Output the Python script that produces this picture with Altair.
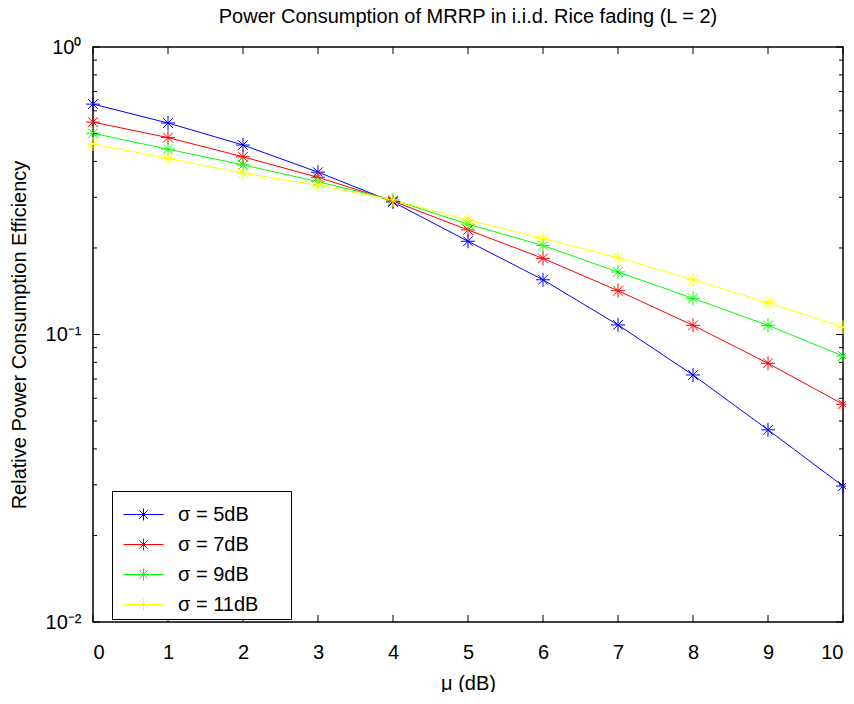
import altair as alt
import pandas as pd

# ---- data ----
mu = [0, 1, 2, 3, 4, 5, 6, 7, 8, 9, 10]
series_labels = ["σ = 5dB", "σ = 7dB", "σ = 9dB", "σ = 11dB"]
series_colors = ["#0000ff", "#ff0000", "#00ff00", "#ffff00"]
s5 = [0.633, 0.544, 0.456, 0.367, 0.289, 0.211, 0.155, 0.108, 0.0723, 0.0466, 0.0297]
s7 = [0.548, 0.484, 0.415, 0.352, 0.291, 0.231, 0.184, 0.142, 0.1076, 0.0794, 0.0572]
s9 = [0.501, 0.441, 0.389, 0.340, 0.294, 0.242, 0.204, 0.165, 0.1336, 0.1076, 0.0842]
s11 = [0.460, 0.410, 0.364, 0.331, 0.294, 0.250, 0.216, 0.185, 0.155, 0.129, 0.106]

y_major = [0.01, 0.1, 1]
y_minor = [0.02, 0.03, 0.04, 0.05, 0.06, 0.07, 0.08, 0.09,
           0.2, 0.3, 0.4, 0.5, 0.6, 0.7, 0.8, 0.9]
x_ticks = mu

rows = []
for lab, vals in zip(series_labels, [s5, s7, s9, s11]):
    for m, v in zip(mu, vals):
        rows.append({"mu": m, "val": v, "series": lab})
df = pd.DataFrame(rows)

W, H = 750, 575
FONT = "Liberation Sans"
STAR = "M-1,0L1,0M0,-1L0,1M-0.7,-0.7L0.7,0.7M-0.7,0.7L0.7,-0.7"
# legend glyph: a 40px line with a star in the middle (unit = 19px)
LEG_SYM = ("M-0.632,0L1.474,0"
           "M0.421,-0.316L0.421,0.316M0.105,0L0.737,0"
           "M0.198,-0.223L0.644,0.223M0.198,0.223L0.644,-0.223")

xscale = alt.Scale(domain=[0, 10], nice=False, zero=False)
yscale = alt.Scale(type="log", domain=[0.01, 1], nice=False)
cscale = alt.Scale(domain=series_labels, range=series_colors)

x_axis = alt.Axis(title="μ (dB)", values=x_ticks, format="d",
                  ticks=False, domain=False, grid=False,
                  labelFontSize=20, labelFont=FONT, labelColor="black",
                  labelPadding=20, titleFontSize=20, titleFont=FONT,
                  titleFontWeight="normal", titleColor="black",
                  titlePadding=11)
y_axis = alt.Axis(title="Relative Power Consumption Efficiency",
                  values=y_major,
                  labelExpr="datum.value >= 0.5 ? '10⁰' : (datum.value >= 0.05 ? '10⁻¹' : '10⁻²')",
                  ticks=False, domain=False, grid=False,
                  labelFontSize=20, labelFont=FONT, labelColor="black",
                  labelPadding=12, titleFontSize=20, titleFont=FONT,
                  titleFontWeight="normal", titleColor="black",
                  titlePadding=16)

PADSTR = "\u00a0" * 5 + "\u200b"

lines = alt.Chart(df).mark_line(strokeWidth=1).encode(
    x=alt.X("mu:Q", scale=xscale, axis=x_axis),
    y=alt.Y("val:Q", scale=yscale, axis=y_axis),
    color=alt.Color("series:N", scale=cscale, sort=series_labels,
                    legend=alt.Legend(title=None, orient="none",
                                      legendX=19, legendY=444,
                                      symbolType=LEG_SYM, symbolSize=1444,
                                      symbolStrokeWidth=1,
                                      labelFontSize=20, labelFont=FONT,
                                      labelColor="black", labelOffset=23,
                                      labelExpr="datum.label + '" + PADSTR + "'",
                                      labelLimit=400,
                                      rowPadding=0, padding=4,
                                      strokeColor="black", fillColor="white")),
)
points = alt.Chart(df).mark_point(shape=STAR, size=196, filled=False,
                                   strokeWidth=1, opacity=1).encode(
    x=alt.X("mu:Q", scale=xscale, axis=x_axis),
    y=alt.Y("val:Q", scale=yscale, axis=y_axis),
    color=alt.Color("series:N", scale=cscale, legend=None),
)

ymaj = pd.DataFrame({"val": y_major})
ymin = pd.DataFrame({"val": y_minor})
xt = pd.DataFrame({"mu": x_ticks})

def yticks(d, length, right):
    x0 = W if right else 0
    x1 = W - length if right else length
    return alt.Chart(d).mark_rule(color="black", strokeWidth=1).encode(
        y=alt.Y("val:Q", scale=yscale, axis=y_axis),
        x=alt.value(x0), x2=alt.value(x1))

def xticks(d, length, top):
    y0 = 0 if top else H
    y1 = length if top else H - length
    return alt.Chart(d).mark_rule(color="black", strokeWidth=1).encode(
        x=alt.X("mu:Q", scale=xscale, axis=x_axis),
        y=alt.value(y0), y2=alt.value(y1))

chart = alt.layer(
    lines, points,
    yticks(ymaj, 7, False), yticks(ymaj, 7, True),
    yticks(ymin, 4, False), yticks(ymin, 4, True),
    xticks(xt, 7, False), xticks(xt, 7, True),
).properties(
    width=W, height=H,
    title=alt.TitleParams("Power Consumption of MRRP in i.i.d. Rice fading (L = 2)",
                          fontSize=20, font=FONT, fontWeight="normal",
                          color="black", anchor="middle", offset=10),
    autosize=alt.AutoSizeParams(type="none"),
    padding={"left": 85, "top": 39, "right": 3, "bottom": 70},
).configure(background="white").configure_view(stroke="black", strokeWidth=1.5)

chart.save("out.html", embed_options={"renderer": "svg", "actions": False})
